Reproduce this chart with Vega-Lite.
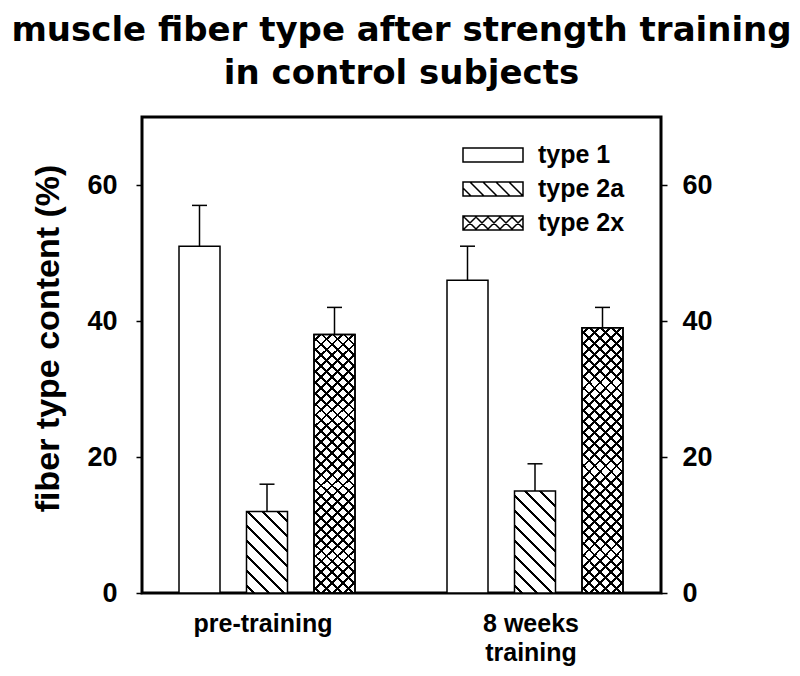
{
  "$schema": "https://vega.github.io/schema/vega-lite/v6.json",
  "width": 519,
  "height": 476,
  "autosize": "none",
  "padding": {"left": 142, "top": 117, "right": 139, "bottom": 83},
  "background": "white",
  "title": {
    "text": ["muscle fiber type after strength training", "in control subjects"],
    "font": "DejaVu Sans",
    "fontSize": 34,
    "fontWeight": "bold",
    "lineHeight": 43,
    "color": "black",
    "anchor": "middle",
    "frame": "group",
    "offset": 26
  },
  "data": {
    "values": [
      {"group": "pre-training", "type": "type 1", "value": 51, "hi": 57},
      {"group": "pre-training", "type": "type 2a", "value": 12, "hi": 16},
      {"group": "pre-training", "type": "type 2x", "value": 38, "hi": 42},
      {"group": "8 weeks training", "type": "type 1", "value": 46, "hi": 51},
      {"group": "8 weeks training", "type": "type 2a", "value": 15, "hi": 19},
      {"group": "8 weeks training", "type": "type 2x", "value": 39, "hi": 42}
    ]
  },
  "encoding": {
    "x": {
      "field": "group",
      "type": "nominal",
      "sort": ["pre-training", "8 weeks training"],
      "scale": {"range": [-143, 661], "paddingInner": 0, "paddingOuter": 0.5},
      "axis": {
        "title": null,
        "labelExpr": "datum.value == '8 weeks training' ? ['8 weeks', 'training'] : datum.value",
        "labelOffset": -4
      }
    },
    "xOffset": {
      "field": "type",
      "type": "nominal",
      "scale": {"paddingInner": 0.3926, "paddingOuter": 0.6815}
    }
  },
  "layer": [
    {
      "mark": {"type": "bar", "strokeWidth": 1.5},
      "encoding": {
        "y": {
          "field": "value",
          "type": "quantitative",
          "scale": {"domain": [0, 70], "nice": false},
          "axis": {
            "orient": "left",
            "values": [0, 20, 40, 60],
            "labelPadding": 19,
            "title": "fiber type content (%)",
            "titleFont": "Liberation Sans",
            "titleFontSize": 34,
            "titleFontWeight": "bold",
            "titleX": -77,
            "titleY": 221
          }
        },
        "stroke": {
          "field": "type",
          "type": "nominal",
          "scale": {"domain": ["type 1", "type 2a", "type 2x"], "range": ["black", "black", "black"]},
          "legend": {
            "title": null,
            "orient": "none",
            "legendX": 338.5,
            "legendY": 25.5,
            "padding": 0,
            "symbolSize": 400,
            "symbolStrokeWidth": 1.5,
            "symbolFillColor": "white",
            "symbolStrokeColor": "black",
            "symbolType": {"expr": "datum.value == 'type 1' ? 'M-3,-0.7H3V0.7H-3Z' : datum.value == 'type 2a' ? 'M-3,-0.7H3V0.7H-3ZM-3,-0.1L-2.2,0.7M-2.3,-0.7L-0.9,0.7M-1,-0.7L0.4,0.7M0.3,-0.7L1.7,0.7M1.6,-0.7L3,0.7' : 'M-3,-0.7H3V0.7H-3ZM-3,0.5L-2.8,0.7M-3,-0.7L-1.6,0.7M-1.8,-0.7L-0.4,0.7M-0.6,-0.7L0.8,0.7M0.6,-0.7L2,0.7M1.8,-0.7L3,0.5M-3,-0.5L-2.8,-0.7M-3,0.7L-1.6,-0.7M-1.8,0.7L-0.4,-0.7M-0.6,0.7L0.8,-0.7M0.6,0.7L2,-0.7M1.8,0.7L3,-0.5'"},
            "labelFont": "Liberation Sans",
            "labelFontSize": 25,
            "labelFontWeight": "bold",
            "labelColor": "black",
            "labelOffset": 32.5,
            "rowPadding": 8
          }
        },
        "fill": {
          "condition": [
            {
              "test": "datum.type == 'type 2a' && datum.group == 'pre-training'",
              "value": {
                "gradient": "linear", "x1": 0, "y1": 1, "x2": 0.6027, "y2": -0.1996,
                "stops": [
                  {"offset": 0, "color": "white"},
                  {"offset": 0.0485, "color": "white"}, {"offset": 0.0485, "color": "black"}, {"offset": 0.0715, "color": "black"}, {"offset": 0.0715, "color": "white"},
                  {"offset": 0.1709, "color": "white"}, {"offset": 0.1709, "color": "black"}, {"offset": 0.1939, "color": "black"}, {"offset": 0.1939, "color": "white"},
                  {"offset": 0.2932, "color": "white"}, {"offset": 0.2932, "color": "black"}, {"offset": 0.3162, "color": "black"}, {"offset": 0.3162, "color": "white"},
                  {"offset": 0.4156, "color": "white"}, {"offset": 0.4156, "color": "black"}, {"offset": 0.4386, "color": "black"}, {"offset": 0.4386, "color": "white"},
                  {"offset": 0.5379, "color": "white"}, {"offset": 0.5379, "color": "black"}, {"offset": 0.5609, "color": "black"}, {"offset": 0.5609, "color": "white"},
                  {"offset": 0.6603, "color": "white"}, {"offset": 0.6603, "color": "black"}, {"offset": 0.6833, "color": "black"}, {"offset": 0.6833, "color": "white"},
                  {"offset": 0.7826, "color": "white"}, {"offset": 0.7826, "color": "black"}, {"offset": 0.8056, "color": "black"}, {"offset": 0.8056, "color": "white"},
                  {"offset": 0.905, "color": "white"}, {"offset": 0.905, "color": "black"}, {"offset": 0.928, "color": "black"}, {"offset": 0.928, "color": "white"},
                  {"offset": 1, "color": "white"}
                ]
              }
            },
            {
              "test": "datum.type == 'type 2a'",
              "value": {
                "gradient": "linear", "x1": 0, "y1": 1, "x2": 0.4852, "y2": -0.207,
                "stops": [
                  {"offset": 0, "color": "white"},
                  {"offset": 0.0401, "color": "white"}, {"offset": 0.0401, "color": "black"}, {"offset": 0.0599, "color": "black"}, {"offset": 0.0599, "color": "white"},
                  {"offset": 0.145, "color": "white"}, {"offset": 0.145, "color": "black"}, {"offset": 0.1648, "color": "black"}, {"offset": 0.1648, "color": "white"},
                  {"offset": 0.2499, "color": "white"}, {"offset": 0.2499, "color": "black"}, {"offset": 0.2697, "color": "black"}, {"offset": 0.2697, "color": "white"},
                  {"offset": 0.3548, "color": "white"}, {"offset": 0.3548, "color": "black"}, {"offset": 0.3746, "color": "black"}, {"offset": 0.3746, "color": "white"},
                  {"offset": 0.4597, "color": "white"}, {"offset": 0.4597, "color": "black"}, {"offset": 0.4795, "color": "black"}, {"offset": 0.4795, "color": "white"},
                  {"offset": 0.5646, "color": "white"}, {"offset": 0.5646, "color": "black"}, {"offset": 0.5844, "color": "black"}, {"offset": 0.5844, "color": "white"},
                  {"offset": 0.6695, "color": "white"}, {"offset": 0.6695, "color": "black"}, {"offset": 0.6893, "color": "black"}, {"offset": 0.6893, "color": "white"},
                  {"offset": 0.7744, "color": "white"}, {"offset": 0.7744, "color": "black"}, {"offset": 0.7942, "color": "black"}, {"offset": 0.7942, "color": "white"},
                  {"offset": 0.8793, "color": "white"}, {"offset": 0.8793, "color": "black"}, {"offset": 0.8991, "color": "black"}, {"offset": 0.8991, "color": "white"},
                  {"offset": 1, "color": "white"}
                ]
              }
            },
            {
              "test": "datum.type == 'type 2x'",
              "value": {
                "gradient": "linear", "x1": 0, "y1": 1, "x2": 0.1767, "y2": -0.1289,
                "stops": [
                  {"offset": 0, "color": "white"},
                  {"offset": 0.0153, "color": "white"}, {"offset": 0.0153, "color": "black"}, {"offset": 0.0247, "color": "black"}, {"offset": 0.0247, "color": "white"},
                  {"offset": 0.0516, "color": "white"}, {"offset": 0.0516, "color": "black"}, {"offset": 0.061, "color": "black"}, {"offset": 0.061, "color": "white"},
                  {"offset": 0.0879, "color": "white"}, {"offset": 0.0879, "color": "black"}, {"offset": 0.0973, "color": "black"}, {"offset": 0.0973, "color": "white"},
                  {"offset": 0.1242, "color": "white"}, {"offset": 0.1242, "color": "black"}, {"offset": 0.1336, "color": "black"}, {"offset": 0.1336, "color": "white"},
                  {"offset": 0.1605, "color": "white"}, {"offset": 0.1605, "color": "black"}, {"offset": 0.1699, "color": "black"}, {"offset": 0.1699, "color": "white"},
                  {"offset": 0.1968, "color": "white"}, {"offset": 0.1968, "color": "black"}, {"offset": 0.2062, "color": "black"}, {"offset": 0.2062, "color": "white"},
                  {"offset": 0.2331, "color": "white"}, {"offset": 0.2331, "color": "black"}, {"offset": 0.2425, "color": "black"}, {"offset": 0.2425, "color": "white"},
                  {"offset": 0.2694, "color": "white"}, {"offset": 0.2694, "color": "black"}, {"offset": 0.2788, "color": "black"}, {"offset": 0.2788, "color": "white"},
                  {"offset": 0.3057, "color": "white"}, {"offset": 0.3057, "color": "black"}, {"offset": 0.3151, "color": "black"}, {"offset": 0.3151, "color": "white"},
                  {"offset": 0.342, "color": "white"}, {"offset": 0.342, "color": "black"}, {"offset": 0.3514, "color": "black"}, {"offset": 0.3514, "color": "white"},
                  {"offset": 0.3783, "color": "white"}, {"offset": 0.3783, "color": "black"}, {"offset": 0.3877, "color": "black"}, {"offset": 0.3877, "color": "white"},
                  {"offset": 0.4146, "color": "white"}, {"offset": 0.4146, "color": "black"}, {"offset": 0.424, "color": "black"}, {"offset": 0.424, "color": "white"},
                  {"offset": 0.4509, "color": "white"}, {"offset": 0.4509, "color": "black"}, {"offset": 0.4603, "color": "black"}, {"offset": 0.4603, "color": "white"},
                  {"offset": 0.4872, "color": "white"}, {"offset": 0.4872, "color": "black"}, {"offset": 0.4966, "color": "black"}, {"offset": 0.4966, "color": "white"},
                  {"offset": 0.5235, "color": "white"}, {"offset": 0.5235, "color": "black"}, {"offset": 0.5329, "color": "black"}, {"offset": 0.5329, "color": "white"},
                  {"offset": 0.5598, "color": "white"}, {"offset": 0.5598, "color": "black"}, {"offset": 0.5692, "color": "black"}, {"offset": 0.5692, "color": "white"},
                  {"offset": 0.5961, "color": "white"}, {"offset": 0.5961, "color": "black"}, {"offset": 0.6055, "color": "black"}, {"offset": 0.6055, "color": "white"},
                  {"offset": 0.6324, "color": "white"}, {"offset": 0.6324, "color": "black"}, {"offset": 0.6418, "color": "black"}, {"offset": 0.6418, "color": "white"},
                  {"offset": 0.6687, "color": "white"}, {"offset": 0.6687, "color": "black"}, {"offset": 0.6781, "color": "black"}, {"offset": 0.6781, "color": "white"},
                  {"offset": 0.705, "color": "white"}, {"offset": 0.705, "color": "black"}, {"offset": 0.7144, "color": "black"}, {"offset": 0.7144, "color": "white"},
                  {"offset": 0.7413, "color": "white"}, {"offset": 0.7413, "color": "black"}, {"offset": 0.7507, "color": "black"}, {"offset": 0.7507, "color": "white"},
                  {"offset": 0.7776, "color": "white"}, {"offset": 0.7776, "color": "black"}, {"offset": 0.787, "color": "black"}, {"offset": 0.787, "color": "white"},
                  {"offset": 0.8139, "color": "white"}, {"offset": 0.8139, "color": "black"}, {"offset": 0.8233, "color": "black"}, {"offset": 0.8233, "color": "white"},
                  {"offset": 0.8502, "color": "white"}, {"offset": 0.8502, "color": "black"}, {"offset": 0.8596, "color": "black"}, {"offset": 0.8596, "color": "white"},
                  {"offset": 0.8865, "color": "white"}, {"offset": 0.8865, "color": "black"}, {"offset": 0.8959, "color": "black"}, {"offset": 0.8959, "color": "white"},
                  {"offset": 0.9228, "color": "white"}, {"offset": 0.9228, "color": "black"}, {"offset": 0.9322, "color": "black"}, {"offset": 0.9322, "color": "white"},
                  {"offset": 0.9591, "color": "white"}, {"offset": 0.9591, "color": "black"}, {"offset": 0.9685, "color": "black"}, {"offset": 0.9685, "color": "white"},
                  {"offset": 1, "color": "white"}
                ]
              }
            }
          ],
          "value": "white"
        }
      }
    },
    {
      "transform": [{"filter": "datum.type == 'type 2x'"}],
      "mark": {
        "type": "bar",
        "strokeWidth": 1.5,
        "stroke": "black",
        "fill": {
          "gradient": "linear", "x1": 0, "y1": 0, "x2": 0.1767, "y2": 1.1289,
          "stops": [
            {"offset": 0, "color": "rgba(0,0,0,0)"},
            {"offset": 0.0153, "color": "rgba(0,0,0,0)"}, {"offset": 0.0153, "color": "black"}, {"offset": 0.0247, "color": "black"}, {"offset": 0.0247, "color": "rgba(0,0,0,0)"},
            {"offset": 0.0516, "color": "rgba(0,0,0,0)"}, {"offset": 0.0516, "color": "black"}, {"offset": 0.061, "color": "black"}, {"offset": 0.061, "color": "rgba(0,0,0,0)"},
            {"offset": 0.0879, "color": "rgba(0,0,0,0)"}, {"offset": 0.0879, "color": "black"}, {"offset": 0.0973, "color": "black"}, {"offset": 0.0973, "color": "rgba(0,0,0,0)"},
            {"offset": 0.1242, "color": "rgba(0,0,0,0)"}, {"offset": 0.1242, "color": "black"}, {"offset": 0.1336, "color": "black"}, {"offset": 0.1336, "color": "rgba(0,0,0,0)"},
            {"offset": 0.1605, "color": "rgba(0,0,0,0)"}, {"offset": 0.1605, "color": "black"}, {"offset": 0.1699, "color": "black"}, {"offset": 0.1699, "color": "rgba(0,0,0,0)"},
            {"offset": 0.1968, "color": "rgba(0,0,0,0)"}, {"offset": 0.1968, "color": "black"}, {"offset": 0.2062, "color": "black"}, {"offset": 0.2062, "color": "rgba(0,0,0,0)"},
            {"offset": 0.2331, "color": "rgba(0,0,0,0)"}, {"offset": 0.2331, "color": "black"}, {"offset": 0.2425, "color": "black"}, {"offset": 0.2425, "color": "rgba(0,0,0,0)"},
            {"offset": 0.2694, "color": "rgba(0,0,0,0)"}, {"offset": 0.2694, "color": "black"}, {"offset": 0.2788, "color": "black"}, {"offset": 0.2788, "color": "rgba(0,0,0,0)"},
            {"offset": 0.3057, "color": "rgba(0,0,0,0)"}, {"offset": 0.3057, "color": "black"}, {"offset": 0.3151, "color": "black"}, {"offset": 0.3151, "color": "rgba(0,0,0,0)"},
            {"offset": 0.342, "color": "rgba(0,0,0,0)"}, {"offset": 0.342, "color": "black"}, {"offset": 0.3514, "color": "black"}, {"offset": 0.3514, "color": "rgba(0,0,0,0)"},
            {"offset": 0.3783, "color": "rgba(0,0,0,0)"}, {"offset": 0.3783, "color": "black"}, {"offset": 0.3877, "color": "black"}, {"offset": 0.3877, "color": "rgba(0,0,0,0)"},
            {"offset": 0.4146, "color": "rgba(0,0,0,0)"}, {"offset": 0.4146, "color": "black"}, {"offset": 0.424, "color": "black"}, {"offset": 0.424, "color": "rgba(0,0,0,0)"},
            {"offset": 0.4509, "color": "rgba(0,0,0,0)"}, {"offset": 0.4509, "color": "black"}, {"offset": 0.4603, "color": "black"}, {"offset": 0.4603, "color": "rgba(0,0,0,0)"},
            {"offset": 0.4872, "color": "rgba(0,0,0,0)"}, {"offset": 0.4872, "color": "black"}, {"offset": 0.4966, "color": "black"}, {"offset": 0.4966, "color": "rgba(0,0,0,0)"},
            {"offset": 0.5235, "color": "rgba(0,0,0,0)"}, {"offset": 0.5235, "color": "black"}, {"offset": 0.5329, "color": "black"}, {"offset": 0.5329, "color": "rgba(0,0,0,0)"},
            {"offset": 0.5598, "color": "rgba(0,0,0,0)"}, {"offset": 0.5598, "color": "black"}, {"offset": 0.5692, "color": "black"}, {"offset": 0.5692, "color": "rgba(0,0,0,0)"},
            {"offset": 0.5961, "color": "rgba(0,0,0,0)"}, {"offset": 0.5961, "color": "black"}, {"offset": 0.6055, "color": "black"}, {"offset": 0.6055, "color": "rgba(0,0,0,0)"},
            {"offset": 0.6324, "color": "rgba(0,0,0,0)"}, {"offset": 0.6324, "color": "black"}, {"offset": 0.6418, "color": "black"}, {"offset": 0.6418, "color": "rgba(0,0,0,0)"},
            {"offset": 0.6687, "color": "rgba(0,0,0,0)"}, {"offset": 0.6687, "color": "black"}, {"offset": 0.6781, "color": "black"}, {"offset": 0.6781, "color": "rgba(0,0,0,0)"},
            {"offset": 0.705, "color": "rgba(0,0,0,0)"}, {"offset": 0.705, "color": "black"}, {"offset": 0.7144, "color": "black"}, {"offset": 0.7144, "color": "rgba(0,0,0,0)"},
            {"offset": 0.7413, "color": "rgba(0,0,0,0)"}, {"offset": 0.7413, "color": "black"}, {"offset": 0.7507, "color": "black"}, {"offset": 0.7507, "color": "rgba(0,0,0,0)"},
            {"offset": 0.7776, "color": "rgba(0,0,0,0)"}, {"offset": 0.7776, "color": "black"}, {"offset": 0.787, "color": "black"}, {"offset": 0.787, "color": "rgba(0,0,0,0)"},
            {"offset": 0.8139, "color": "rgba(0,0,0,0)"}, {"offset": 0.8139, "color": "black"}, {"offset": 0.8233, "color": "black"}, {"offset": 0.8233, "color": "rgba(0,0,0,0)"},
            {"offset": 0.8502, "color": "rgba(0,0,0,0)"}, {"offset": 0.8502, "color": "black"}, {"offset": 0.8596, "color": "black"}, {"offset": 0.8596, "color": "rgba(0,0,0,0)"},
            {"offset": 0.8865, "color": "rgba(0,0,0,0)"}, {"offset": 0.8865, "color": "black"}, {"offset": 0.8959, "color": "black"}, {"offset": 0.8959, "color": "rgba(0,0,0,0)"},
            {"offset": 0.9228, "color": "rgba(0,0,0,0)"}, {"offset": 0.9228, "color": "black"}, {"offset": 0.9322, "color": "black"}, {"offset": 0.9322, "color": "rgba(0,0,0,0)"},
            {"offset": 0.9591, "color": "rgba(0,0,0,0)"}, {"offset": 0.9591, "color": "black"}, {"offset": 0.9685, "color": "black"}, {"offset": 0.9685, "color": "rgba(0,0,0,0)"},
            {"offset": 1, "color": "rgba(0,0,0,0)"}
          ]
        }
      },
      "encoding": {
        "y": {"field": "value", "type": "quantitative", "axis": null}
      }
    },
    {
      "mark": {"type": "rule", "strokeWidth": 1.5, "color": "black"},
      "encoding": {
        "y": {
          "field": "value",
          "type": "quantitative",
          "axis": {"orient": "right", "values": [0, 20, 40, 60], "title": null, "labelPadding": 15}
        },
        "y2": {"field": "hi"}
      }
    },
    {
      "mark": {"type": "tick", "orient": "horizontal", "size": 15, "thickness": 1.5, "color": "black", "opacity": 1},
      "encoding": {
        "y": {"field": "hi", "type": "quantitative", "axis": null}
      }
    }
  ],
  "resolve": {"axis": {"y": "independent"}},
  "config": {
    "view": {"stroke": "black", "strokeWidth": 3},
    "axis": {
      "labelFont": "Liberation Sans",
      "labelFontWeight": "bold",
      "labelColor": "black",
      "grid": false,
      "domain": false,
      "tickColor": "black",
      "titleColor": "black"
    },
    "axisX": {
      "ticks": false,
      "labelFontSize": 25,
      "labelPadding": 18,
      "labelLineHeight": 29,
      "labelAngle": 0
    },
    "axisY": {
      "labelFontSize": 27,
      "tickSize": 6,
      "tickWidth": 1.5
    }
  }
}
